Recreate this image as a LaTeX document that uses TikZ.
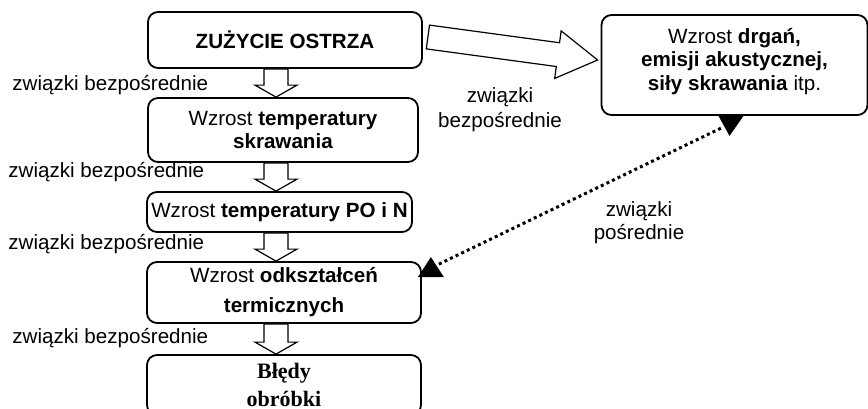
\documentclass[tikz,border=0pt]{standalone}
\usepackage{fontspec}
\setmainfont{Liberation Sans}
\newfontfamily\timesfont{Liberation Serif}
\usetikzlibrary{calc}

\tikzset{
  box/.style={draw, line width=0.9pt, rounded corners=5pt, align=center, inner sep=1pt},
  lbl/.style={inner sep=0pt, align=center},
  hollowarrow/.style args={#1/#2/#3}{draw, fill=white, line width=0.6pt, line join=miter,
    to path={let \p1=(\tikztostart), \p2=(\tikztotarget),
      \n1={atan2(\y2-\y1,\x2-\x1)}, \n2={veclen(\x2-\x1,\y2-\y1)} in
      ($(\p1)+(\n1+90:#1)$) -- ($(\p1)+(\n1:{\n2*1pt-#3})+(\n1+90:#1)$)
      -- ($(\p1)+(\n1:{\n2*1pt-#3})+(\n1+90:#2)$) -- (\p2)
      -- ($(\p1)+(\n1:{\n2*1pt-#3})+(\n1-90:#2)$)
      -- ($(\p1)+(\n1:{\n2*1pt-#3})+(\n1-90:#1)$)
      -- ($(\p1)+(\n1-90:#1)$) -- cycle}},
  dots/.style={line width=1.5pt, dash pattern=on 1.5pt off 1.6pt}
}

\begin{document}
\begin{tikzpicture}[x=0.5pt, y=-0.5pt, font=\fontsize{10.3}{11.5}\selectfont]
\clip (0,0) rectangle (868,408);

% main chain
\node[box, minimum width=137pt, minimum height=28pt] (b1) at (285,40) {\textbf{ZUŻYCIE OSTRZA}};
\node[box, minimum width=135pt, minimum height=32pt] (b2) at (283,130) {Wzrost \textbf{temperatury}\\\textbf{skrawania}};
\node[box, minimum width=132.5pt, minimum height=20pt] (b3) at (279.5,212) {Wzrost \textbf{temperatury PO i N}};
\node[box, minimum width=137pt, minimum height=30.5pt, font=\fontsize{10.3}{15}\selectfont] (b4) at (284,292.5) {Wzrost \textbf{odkształceń}\\\textbf{termicznych}};
\node[box, minimum width=137pt, minimum height=30pt, font=\fontsize{11}{14}\selectfont\timesfont\bfseries] (b5) at (284,385) {Błędy\\obróbki};

% right box
\node[box, minimum width=133pt, minimum height=50pt, font=\fontsize{10.3}{11.6}\selectfont] (rb) at (734.5,65) {Wzrost \textbf{drgań,}\\\textbf{emisji akustycznej,}\\\textbf{siły skrawania} itp.\\[-6pt]\mbox{}};

% hollow arrows
\coordinate (ax) at (276,0);
\draw[hollowarrow=6pt/10.5pt/6pt] (b1.south -| ax) to (b2.north -| ax);
\draw[hollowarrow=6pt/10.5pt/6pt] (b2.south -| ax) to (b3.north -| ax);
\draw[hollowarrow=6pt/10.5pt/6pt] (b3.south -| ax) to (b4.north -| ax);
\draw[hollowarrow=6pt/10.5pt/6pt] (b4.south -| ax) to (b5.north -| ax);
\draw[hollowarrow=6pt/12pt/20pt] ($(b1.east)+(5,-3)$) to ($(rb.west)+(-3,-5)$);

% labels
\node[lbl, anchor=west] (l1) at (12,85) {związki bezpośrednie};
\node[lbl, anchor=west] (l2) at (8,172) {związki bezpośrednie};
\node[lbl, anchor=west] (l3) at (8,244) {związki bezpośrednie};
\node[lbl, anchor=west] (l4) at (12,338) {związki bezpośrednie};
\node[lbl, font=\fontsize{10.3}{12.5}\selectfont] (lb) at (500,110) {związki\\bezpośrednie};
\node[lbl] (lp) at (639,223) {związki\\pośrednie};

% indirect link
\coordinate (pa) at ($(b4.north east)+(17,3)$);
\coordinate (pb) at ($(rb.south)+(-13,12)$);
\draw[dots] (pa) -- (pb);
\fill ($(b4.north east)+(9,-4)$) -- ($(b4.north east)+(22,16)$) -- ($(b4.north east)+(-4,16)$) -- cycle;
\fill ($(rb.south)+(-16,0)$) -- ($(rb.south)+(9,0)$) -- ($(rb.south)+(-5,20)$) -- cycle;
\end{tikzpicture}
\end{document}
